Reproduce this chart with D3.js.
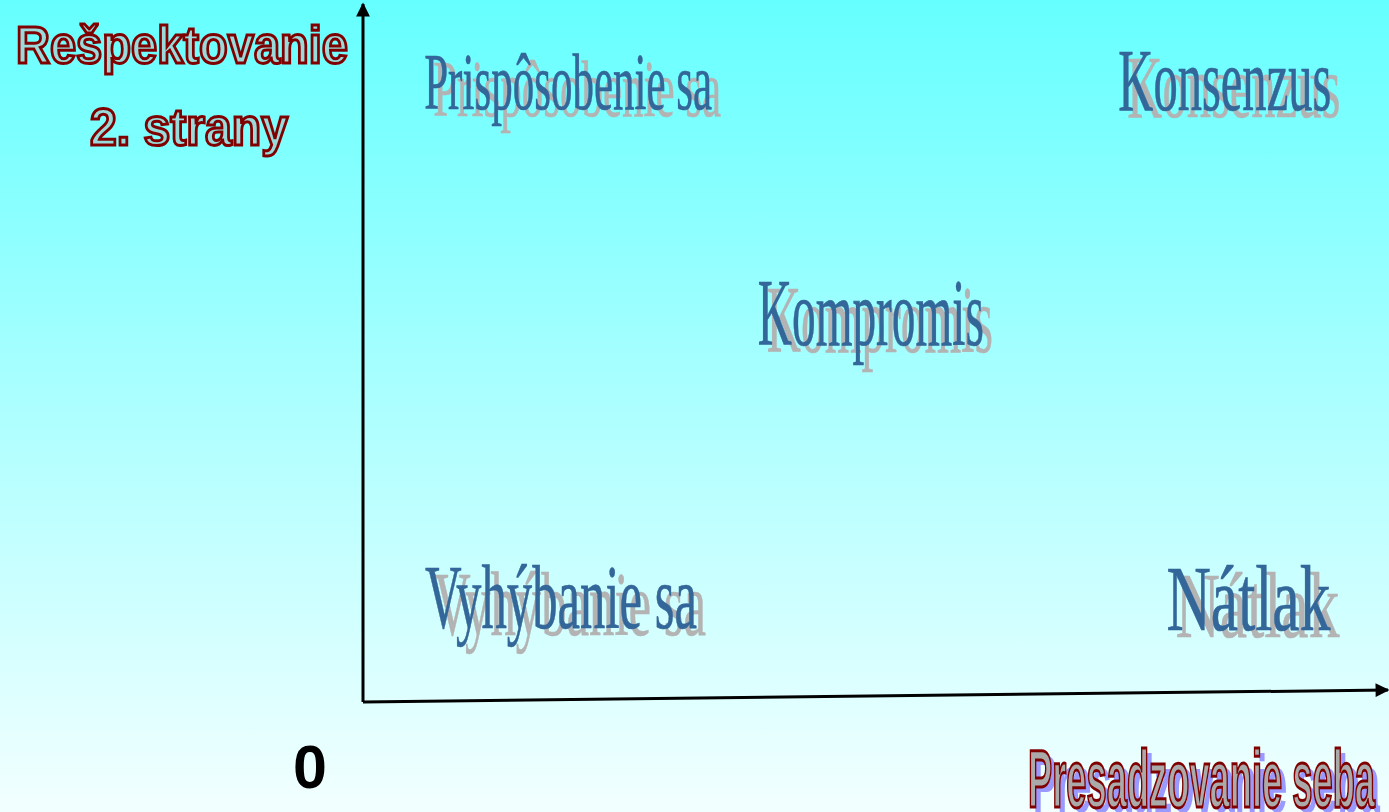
<!DOCTYPE html>
<html><head><meta charset="utf-8">
<script src="https://cdn.jsdelivr.net/npm/d3@7"></script>
<style>html,body{margin:0;padding:0;overflow:hidden;}svg{display:block;}</style>
</head><body>
<script>
// ---- data ----
const strategies      = ["Prispôsobenie sa", "Konsenzus", "Kompromis", "Vyhýbanie sa", "Nátlak"];
const assertiveness   = [2.0, 8.4, 4.95, 1.93, 8.63];   // Presadzovanie seba (x)
const cooperativeness = [8.93, 8.95, 5.6, 1.5, 1.48];   // Rešpektovanie 2. strany (y)
const yAxisTitle = ["Rešpektovanie", "2. strany"];
const xAxisTitle = "Presadzovanie seba";
const originTick = "0";

// ---- layout / style ----
const W = 1389, H = 812;
const style = {
  "Prispôsobenie sa": {size: 80, len: 288},
  "Konsenzus":        {size: 88, len: 213},
  "Kompromis":        {size: 95, len: 226},
  "Vyhýbanie sa":     {size: 91, len: 272},
  "Nátlak":           {size: 94, len: 164}
};

const svg = d3.select("body").append("svg").attr("width", W).attr("height", H);
const defs = svg.append("defs");
const grad = defs.append("linearGradient").attr("id","bg").attr("x1",0).attr("y1",0).attr("x2",0).attr("y2",1);
grad.append("stop").attr("offset","0%").attr("stop-color","#66ffff");
grad.append("stop").attr("offset","100%").attr("stop-color","#f3ffff");
svg.append("rect").attr("width",W).attr("height",H).attr("fill","url(#bg)");

const mk = defs.append("marker").attr("id","arr").attr("viewBox","0 0 10 10")
  .attr("refX",9).attr("refY",5).attr("markerWidth",5).attr("markerHeight",4.6)
  .attr("orient","auto").attr("markerUnits","strokeWidth");
mk.append("path").attr("d","M0,0 L10,5 L0,10 Z").attr("fill","#000");

const x = d3.scaleLinear().domain([0,10]).range([363, 1389]);
const y = d3.scaleLinear().domain([0,10]).range([702, 8]);

// axes (horizontal one slightly tilted as in original)
svg.append("line").attr("x1",x(0)).attr("y1",y(0)).attr("x2",x(0)).attr("y2",4)
  .attr("stroke","#000").attr("stroke-width",3).attr("marker-end","url(#arr)");
svg.append("line").attr("x1",x(0)).attr("y1",y(0)).attr("x2",x(10)-1).attr("y2",y(0)-12)
  .attr("stroke","#000").attr("stroke-width",3).attr("marker-end","url(#arr)");

// strategy labels
const data = strategies.map((s,i)=>({s, a: assertiveness[i], c: cooperativeness[i]}));
const g = svg.append("g");
function lab(sel, dx, dy, fill){
  sel.append("text")
    .attr("x", d => x(d.a) - style[d.s].len/2 + dx)
    .attr("y", d => y(d.c) + style[d.s].size*0.33 + dy)
    .attr("font-family","'Liberation Serif','Times New Roman',serif")
    .attr("font-size", d => style[d.s].size)
    .attr("textLength", d => style[d.s].len)
    .attr("lengthAdjust","spacingAndGlyphs")
    .attr("fill", fill).attr("stroke", fill).attr("stroke-width", 0.6)
    .text(d => d.s);
}
const items = g.selectAll("g").data(data).join("g");
lab(items, 9, 7, "#b3b3b3");
lab(items, 0, 0, "#336699");

// y axis title
const yt = svg.append("g").attr("font-family","'Liberation Sans',Arial,sans-serif")
  .attr("font-weight","bold").attr("font-size",51)
  .attr("fill","#99dada").attr("stroke","#800000").attr("stroke-width",3)
  .attr("text-anchor","middle");
yt.append("text").attr("x",182).attr("y",63).attr("textLength",332)
  .attr("lengthAdjust","spacingAndGlyphs").text(yAxisTitle[0]);
yt.append("text").attr("x",189).attr("y",145).attr("textLength",198)
  .attr("lengthAdjust","spacingAndGlyphs").text(yAxisTitle[1]);

// origin tick
svg.append("text").attr("x",310).attr("y",788).attr("text-anchor","middle")
  .attr("font-family","'Liberation Sans',Arial,sans-serif").attr("font-weight","bold")
  .attr("font-size",61).attr("fill","#000").text(originTick);

// x axis title with shadow
const xt = svg.append("g").attr("font-family","'Liberation Sans',Arial,sans-serif")
  .attr("font-weight","bold").attr("font-size",82);
xt.append("text").attr("x",1033).attr("y",812).attr("textLength",347)
  .attr("lengthAdjust","spacingAndGlyphs").attr("fill","#9999ff").text(xAxisTitle);
xt.append("text").attr("x",1028).attr("y",807).attr("textLength",347)
  .attr("lengthAdjust","spacingAndGlyphs").attr("fill","#aaaaaa")
  .attr("stroke","#800000").attr("stroke-width",3).text(xAxisTitle);
</script>
</body></html>
